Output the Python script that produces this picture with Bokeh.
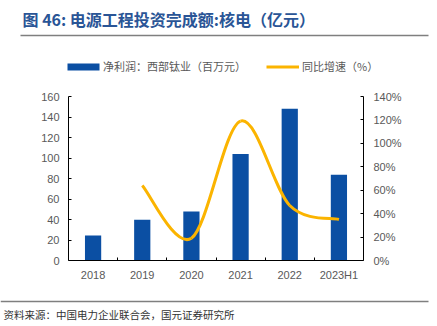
from bokeh.plotting import figure
from bokeh.models import (Range1d, LinearAxis, FixedTicker, PrintfTickFormatter, ColumnDataSource,
                          Legend, LegendItem)
from bokeh.core.properties import value
from bokeh.embed import file_html
from bokeh.resources import INLINE

# ---------------- data ----------------
categories = ["2018", "2019", "2020", "2021", "2022", "2023H1"]
investment = [24.4, 39.7, 47.8, 104.0, 148.0, 83.6]
growth_categories = ["2019", "2020", "2021", "2022", "2023H1"]
growth_pct = [64, 19, 119, 47, 35]
left_ticks = [0, 20, 40, 60, 80, 100, 120, 140, 160]
right_ticks = [0, 20, 40, 60, 80, 100, 120, 140]

title_text = "图 46:  电源工程投资完成额:核电（亿元）"
bar_label = "净利润：西部钛业（百万元）"
line_label = "同比增速（%）"
source_text = "资料来源：中国电力企业联合会，国元证券研究所"

BAR_COLOR = "#0b4fa3"
LINE_COLOR = "#fbb400"
TICK_COLOR = "#595959"
RULE_COLOR = "#7f7f7f"
NUM_FONT = "Liberation Sans"
CJK_FONT = "Noto Sans CJK SC"
W, H = 437, 326
# chart area inside the canvas (pixels): left, right, top, bottom
FL, FR, FT, FB = 68, 363, 96, 260
NCAT = len(categories)


def span_range(v0, v1, p0, p1, c0, c1):
    """Range whose value v0 sits at pixel p0 and v1 at pixel p1, evaluated at canvas pixels c0..c1."""
    s = (v1 - v0) / (p1 - p0)
    return Range1d(v0 + (c0 - p0) * s, v0 + (c1 - p0) * s)


p = figure(width=W, height=H, output_backend="svg", toolbar_location=None,
           x_axis_type=None, y_axis_type=None,
           x_range=span_range(-0.5, NCAT - 0.5, FL, FR, 0, W),
           y_range=span_range(0, left_ticks[-1], FB, FT, H, 0),
           min_border=0, min_border_left=0, min_border_right=0,
           min_border_top=0, min_border_bottom=0)
p.extra_y_ranges = {"pct": span_range(0, right_ticks[-1], FB, FT, H, 0),
                    "px": Range1d(H, 0)}
p.extra_x_ranges = {"px": Range1d(0, W)}
p.outline_line_color = None
p.grid.visible = False
p.background_fill_color = "white"
p.border_fill_color = "white"

# ---------------- bars ----------------
xs = list(range(NCAT))
bar_src = ColumnDataSource(dict(x=xs, top=investment))
bars = p.vbar(x="x", top="top", bottom=0, width=0.33, source=bar_src,
              fill_color=BAR_COLOR, line_color=None)

# ---------------- smooth line (cubic bezier through the data points) ----------------
gx = [categories.index(c) for c in growth_categories]
gy = growth_pct
n = len(gx)
seg = dict(x0=[], y0=[], x1=[], y1=[], cx0=[], cy0=[], cx1=[], cy1=[])
for i in range(n - 1):
    i0, i3 = max(i - 1, 0), min(i + 2, n - 1)
    seg["x0"].append(gx[i]); seg["y0"].append(gy[i])
    seg["x1"].append(gx[i + 1]); seg["y1"].append(gy[i + 1])
    seg["cx0"].append(gx[i] + (gx[i + 1] - gx[i0]) / 6)
    seg["cy0"].append(gy[i] + (gy[i + 1] - gy[i0]) / 6)
    seg["cx1"].append(gx[i + 1] - (gx[i3] - gx[i]) / 6)
    seg["cy1"].append(gy[i + 1] - (gy[i3] - gy[i]) / 6)
curve = p.bezier(x0="x0", y0="y0", x1="x1", y1="y1", cx0="cx0", cy0="cy0", cx1="cx1", cy1="cy1",
                 source=ColumnDataSource(seg), y_range_name="pct",
                 line_color=LINE_COLOR, line_width=3)


# ---------------- axes ----------------
def style_axis(ax):
    ax.axis_line_color = "black"
    ax.axis_line_width = 1
    ax.major_tick_line_color = "black"
    ax.major_tick_in = 3
    ax.major_tick_out = 0
    ax.minor_tick_line_color = None
    ax.major_label_text_font = NUM_FONT
    ax.major_label_text_font_size = "11px"
    ax.major_label_text_color = TICK_COLOR


yl = LinearAxis(ticker=FixedTicker(ticks=left_ticks), fixed_location=-0.5,
                bounds=(left_ticks[0], left_ticks[-1]))
style_axis(yl)
yl.major_label_standoff = 9
p.add_layout(yl, "left")

yr = LinearAxis(y_range_name="pct", ticker=FixedTicker(ticks=right_ticks),
                formatter=PrintfTickFormatter(format="%d%%"), fixed_location=NCAT - 0.5,
                bounds=(right_ticks[0], right_ticks[-1]))
style_axis(yr)
yr.major_label_standoff = 10
p.add_layout(yr, "right")

xa = LinearAxis(ticker=FixedTicker(ticks=xs, minor_ticks=[i + 0.5 for i in xs[:-1]]),
                fixed_location=0, bounds=(-0.5, NCAT - 0.5))
style_axis(xa)
xa.major_label_overrides = {i: c for i, c in enumerate(categories)}
xa.major_tick_in = 0
xa.minor_tick_line_color = "black"
xa.minor_tick_in = 3
xa.minor_tick_out = 0
xa.major_label_standoff = 8
p.add_layout(xa, "below")

# ---------------- legend ----------------
common = dict(orientation="horizontal", glyph_height=9, label_height=9, padding=0, margin=0,
              spacing=0, label_text_font=CJK_FONT, label_text_font_size="11px",
              label_text_color=TICK_COLOR, background_fill_alpha=0, border_line_alpha=0)
leg1 = Legend(items=[LegendItem(label=bar_label, renderers=[bars])], location=(63, H - 74),
              glyph_width=40, label_standoff=0, **common)
leg2 = Legend(items=[LegendItem(label=line_label, renderers=[curve])], location=(266, H - 74),
              glyph_width=33, label_standoff=3, **common)
p.add_layout(leg1, "center")
p.add_layout(leg2, "center")

# ---------------- title, rules, source (canvas pixel coordinates) ----------------
px = dict(x_range_name="px", y_range_name="px")
p.text(x=[22], y=[18], text=[title_text], text_font=value(CJK_FONT),
       text_font_size=value("16px"), text_font_style="bold", text_color="#2a5596",
       text_baseline="middle", text_align="left", **px)
p.segment(x0=[20], y0=[35], x1=[428], y1=[35], line_color=RULE_COLOR, line_width=1.5, **px)
p.segment(x0=[0], y0=[301], x1=[428], y1=[301], line_color=RULE_COLOR, line_width=1.5, **px)
p.text(x=[3], y=[314], text=[source_text], text_font=value(CJK_FONT),
       text_font_size=value("10.5px"), text_color="#333333",
       text_baseline="middle", text_align="left", **px)

open("out.html", "w").write(file_html(p, INLINE))
